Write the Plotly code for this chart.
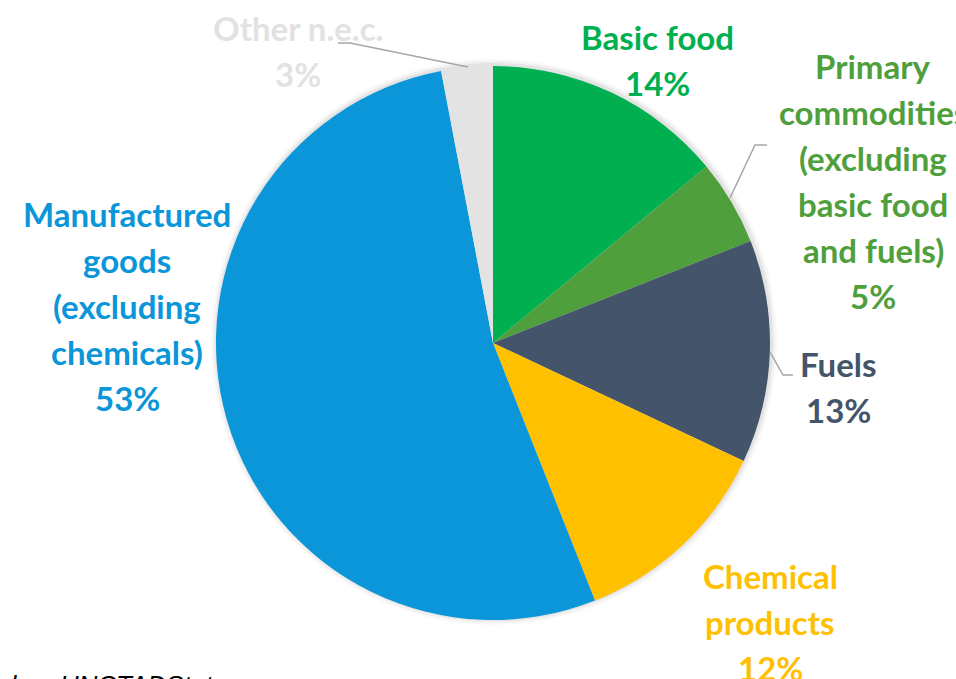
import plotly.graph_objects as go

# Export structure by product group (share of total, %)
categories = [
    "Basic food",
    "Primary commodities (excluding basic food and fuels)",
    "Fuels",
    "Chemical products",
    "Manufactured goods (excluding chemicals)",
    "Other n.e.c.",
]
shares = [14, 5, 13, 12, 53, 3]

# How each category name is wrapped in its outside label
label_lines = [
    ["Basic food"],
    ["Primary", "commodities", "(excluding", "basic food", "and fuels)"],
    ["Fuels"],
    ["Chemical", "products"],
    ["Manufactured", "goods", "(excluding", "chemicals)"],
    ["Other n.e.c."],
]

slice_colors = ["#00B050", "#4FA03C", "#44546A", "#FFC000", "#0A96D8", "#E3E3E3"]
text_colors = ["#00B050", "#4FA03C", "#44546A", "#FFC000", "#0A96D8", "#E2E2E2"]

W, H = 956, 679


def fx(px):
    return px / W


def fy(py):
    return 1 - py / H


# Label placement: centre x and first-line centre y, in pixels
label_anchor = [(657, 37), (873, 66), (838, 364), (770, 576), (127, 214), (298, 28)]
line_step = 46

# Leader lines (pixel polylines) for the labels set away from their slice
leaders = [
    [(338, 43), (350, 43), (468, 67)],
    [(767, 145), (755, 145), (730, 198)],
    [(770, 352), (783, 375), (793, 375)],
]

# Pie geometry in pixels
cx, cy, r = 493, 343, 277

fig = go.Figure()

# soft halo behind the pie
for k, a in [(6, 0.025), (4, 0.035), (2, 0.05)]:
    fig.add_trace(go.Pie(
        values=[1],
        marker=dict(colors=[f"rgba(0,0,0,{a})"], line=dict(width=0)),
        textinfo="none", hoverinfo="skip", showlegend=False, sort=False,
        domain=dict(x=[fx(cx - r - k + 1), fx(cx + r + k + 1)],
                    y=[fy(cy + r + k - 1), fy(cy - r - k - 1)]),
    ))

fig.add_trace(go.Pie(
    labels=categories,
    values=shares,
    sort=False,
    direction="clockwise",
    rotation=0,
    marker=dict(colors=slice_colors, line=dict(width=0)),
    textinfo="none",
    hovertemplate="%{label}: %{value}%<extra></extra>",
    showlegend=False,
    domain=dict(x=[fx(cx - r), fx(cx + r)], y=[fy(cy + r), fy(cy - r)]),
))

annotations = []
for lines, share, color, (ax, ay) in zip(label_lines, shares, text_colors, label_anchor):
    for i, line in enumerate(lines + [f"{share}%"]):
        annotations.append(dict(
            x=fx(ax), y=fy(ay + i * line_step), xref="paper", yref="paper",
            text=line, showarrow=False, xanchor="center", yanchor="middle",
            font=dict(family="Lato", size=33, color=color, weight="bold"),
        ))

annotations.append(dict(
    x=fx(216), y=fy(684.5), xref="paper", yref="paper",
    text="<i>Source: UNCTAD based on UNCTADStat</i>", showarrow=False,
    xanchor="right", yanchor="middle",
    font=dict(family="Liberation Sans", size=26, color="#000000"),
))

shapes = []
for pts in leaders:
    path = "M " + " L ".join(f"{fx(x)},{fy(y)}" for x, y in pts)
    shapes.append(dict(type="path", path=path, xref="paper", yref="paper",
                       line=dict(color="#A6A6A6", width=1.5)))

fig.update_layout(
    width=W, height=H,
    margin=dict(l=0, r=0, t=0, b=0),
    paper_bgcolor="white",
    plot_bgcolor="white",
    annotations=annotations,
    shapes=shapes,
)

fig.write_html("out.html")
